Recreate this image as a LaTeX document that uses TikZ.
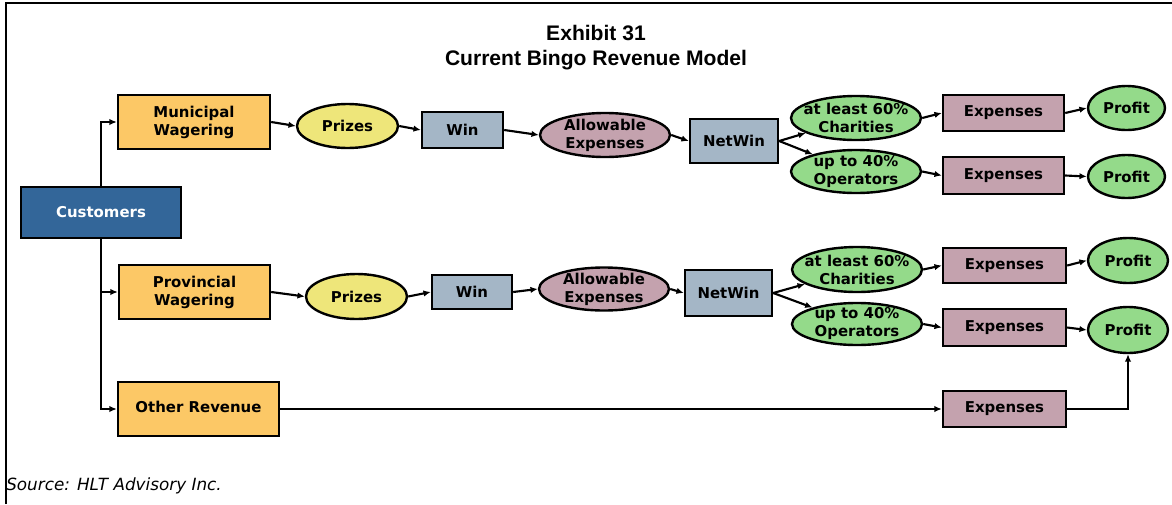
\documentclass[tikz,border=0pt]{standalone}
\usepackage{fontspec}
\setmainfont{DejaVu Sans}
\newfontfamily\titlefont{Liberation Sans}
\usetikzlibrary{shapes.geometric,arrows.meta}
\definecolor{cblue}{HTML}{336699}
\definecolor{corange}{HTML}{FCC866}
\definecolor{cyellow}{HTML}{EEE67A}
\definecolor{cgray}{HTML}{A4B6C6}
\definecolor{cmauve}{HTML}{C4A2AE}
\definecolor{cgreen}{HTML}{94DA8A}
\begin{document}
\begin{tikzpicture}[x=0.75pt,y=-0.75pt,
  every node/.style={font=\bfseries\fontsize{11.2pt}{13.5pt}\selectfont, align=center, text=black},
  box/.style={draw=black, line width=1.8pt, rectangle, inner sep=0pt},
  oval/.style={draw=black, line width=1.8pt, ellipse, inner sep=0pt},
  sz/.style 2 args={minimum width=#1*0.75pt, minimum height=#2*0.75pt},
  arr/.style={draw=black, line width=1.6pt, -{Latex[length=5.5pt,width=4.8pt]}},
  frame/.style={draw=black, line width=1.8pt},
  titletext/.style={font=\titlefont\bfseries\fontsize{15.8pt}{18.8pt}\selectfont, anchor=base},
  srctext/.style={font=\itshape\fontsize{12.6pt}{14pt}\selectfont, anchor=base west}
]
\useasboundingbox (0,0) rectangle (1172,504);
\draw[frame] (6,504) -- (6,3) -- (1172,3);

\node[titletext] (t1) at (596,40) {Exhibit 31};
\node[titletext] (t2) at (596,65) {Current Bingo Revenue Model};
\node[srctext, inner sep=0pt] (src) at (6,490) {Source: HLT Advisory Inc.};

% left column
\node[box, fill=cblue, sz={160}{51}, text=white] (cust) at (101,212.5) {Customers};
\node[box, fill=corange, sz={152}{54}] (mun) at (194,122) {Municipal\\Wagering};
\node[box, fill=corange, sz={151}{54}] (prov) at (194.5,292) {Provincial\\Wagering};
\node[box, fill=corange, sz={161}{54}] (oth) at (198.5,409) {\raisebox{3.75pt}{Other Revenue}};

% row 1
\node[oval, fill=cyellow, sz={101}{44}, label={center:Prizes}] (pz1) at (347.5,126) {};
\node[box, fill=cgray, sz={81}{36}] (win1) at (462.5,130) {Win};
\node[oval, fill=cmauve, sz={130}{44}, label={center:Allowable\\Expenses}] (ae1) at (605,135) {};
\node[box, fill=cgray, sz={88}{44}] (nw1) at (734,141) {NetWin};
\node[oval, fill=cgreen, sz={130}{44}, label={center:at least 60\%\\Charities}] (ch1) at (856,118) {};
\node[oval, fill=cgreen, sz={130}{43}, label={center:up to 40\%\\Operators}] (op1) at (856,171.5) {};
\node[box, fill=cmauve, sz={121}{36}] (ex1) at (1003.5,113) {Expenses};
\node[box, fill=cmauve, sz={121}{37}] (ex2) at (1003.5,175.5) {Expenses};
\node[oval, fill=cgreen, sz={77}{44}, label={center:Profit}] (pf1) at (1126.5,108) {};
\node[oval, fill=cgreen, sz={77}{43}, label={center:Profit}] (pf2) at (1126.5,176.5) {};

% row 2
\node[oval, fill=cyellow, sz={101}{45}, label={center:Prizes}] (pz2) at (356.5,296.5) {};
\node[box, fill=cgray, sz={80}{34}] (win2) at (472,292) {Win};
\node[oval, fill=cmauve, sz={130}{43}, label={center:Allowable\\Expenses}] (ae2) at (604,289) {};
\node[box, fill=cgray, sz={87}{46}] (nw2) at (728.5,293) {NetWin};
\node[oval, fill=cgreen, sz={130}{45}, label={center:at least 60\%\\Charities}] (ch2) at (857,269.5) {};
\node[oval, fill=cgreen, sz={130}{42}, label={center:up to 40\%\\Operators}] (op2) at (857,324) {};
\node[box, fill=cmauve, sz={123}{35}] (ex3) at (1004.5,265.5) {Expenses};
\node[box, fill=cmauve, sz={123}{37}] (ex4) at (1004.5,327.5) {Expenses};
\node[oval, fill=cgreen, sz={80}{45}, label={center:Profit}] (pf3) at (1128,260.5) {};
\node[oval, fill=cgreen, sz={80}{46}, label={center:Profit}] (pf4) at (1128,330) {};

% row 3
\node[box, fill=cmauve, sz={123}{36}] (ex5) at (1004.5,409) {Expenses};

% connectors
\draw[arr] (cust.north) |- (mun.west);
\draw[arr] (cust.south) |- (prov.west);
\draw[arr] (cust.south) |- (oth.west);

\draw[arr] (mun.east) -- (pz1.west);
\draw[arr] (pz1.east) -- (win1.west);
\draw[arr] (win1.east) -- (ae1.west);
\draw[arr] (ae1.east) -- (nw1.west);
\draw[arr] (nw1.east) -- (ch1);
\draw[arr] (nw1.east) -- (op1);
\draw[arr] (ch1.east) -- (ex1.west);
\draw[arr] (op1.east) -- (ex2.west);
\draw[arr] (ex1.east) -- (pf1.west);
\draw[arr] (ex2.east) -- (pf2.west);

\draw[arr] (prov.east) -- (pz2.west);
\draw[arr] (pz2.east) -- (win2.west);
\draw[arr] (win2.east) -- (ae2.west);
\draw[arr] (ae2.east) -- (nw2.west);
\draw[arr] (nw2.east) -- (ch2);
\draw[arr] (nw2.east) -- (op2);
\draw[arr] (ch2.east) -- (ex3.west);
\draw[arr] (op2.east) -- (ex4.west);
\draw[arr] (ex3.east) -- (pf3.west);
\draw[arr] (ex4.east) -- (pf4.west);

\draw[arr] (oth.east) -- (ex5.west);
\draw[arr] (ex5.east) -| (pf4.south);
\end{tikzpicture}
\end{document}
